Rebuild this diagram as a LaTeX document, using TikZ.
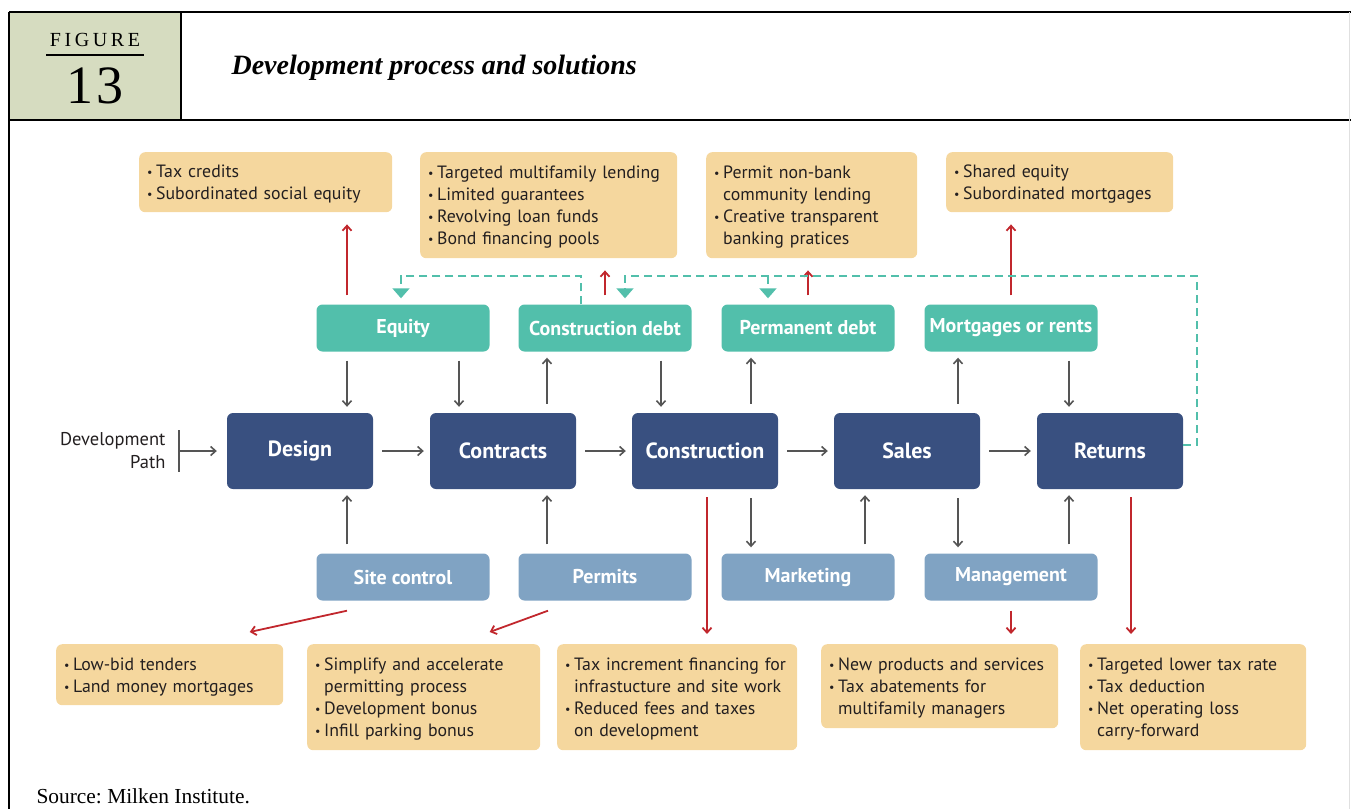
\documentclass[tikz,border=0pt]{standalone}
\usepackage{fontspec}
\setmainfont{PT Sans}
\newfontfamily\serif{Liberation Serif}
\usetikzlibrary{arrows.meta}
\frenchspacing

\definecolor{navy}{RGB}{57,80,128}
\definecolor{mint}{RGB}{82,191,171}
\definecolor{slate}{RGB}{128,163,195}
\definecolor{sand}{RGB}{245,215,158}
\definecolor{brick}{RGB}{193,39,45}
\definecolor{ash}{RGB}{85,85,85}
\definecolor{sage}{RGB}{214,220,192}
\definecolor{ink}{RGB}{35,31,32}

% bullet and hanging indent for the solution lists
\newcommand{\itm}{\rule{0pt}{17pt}\makebox[9pt][l]{\raisebox{1pt}{\fontsize{12}{12}\selectfont\textbullet}}}
\newcommand{\cnt}{\hspace*{9pt}}

\begin{document}
\begin{tikzpicture}[x=1pt,y=-1pt,
    stage/.style={rectangle, rounded corners=6pt, fill=navy, text=white, inner xsep=2pt,
        font=\fontsize{22}{26}\selectfont\bfseries, minimum width=146pt, minimum height=76pt},
    fund/.style={rectangle, rounded corners=6pt, fill=mint, text=white, inner xsep=2pt,
        font=\fontsize{20}{24}\selectfont\bfseries, minimum width=173pt, minimum height=47pt},
    task/.style={fund, fill=slate},
    idea/.style={rectangle, rounded corners=6pt, fill=sand, text=ink, anchor=north west,
        font=\fontsize{17.8}{22}\selectfont, align=left, inner xsep=8pt, inner ysep=0pt},
    flow/.style={draw=ash, line width=1.6pt, -{Straight Barb[length=5pt,width=9pt]},
        shorten <=9pt, shorten >=6pt},
    fix/.style={draw=brick, line width=1.8pt, -{Straight Barb[length=5pt,width=9pt]},
        shorten <=9pt, shorten >=12pt},
    loop/.style={draw=mint, line width=1.8pt, dash pattern=on 8pt off 5pt,
        -{Triangle[length=10pt,width=17pt]}, shorten >=6pt},
]
\useasboundingbox (0,0) rectangle (1351,809);

%% header
\fill[sage] (9,12) rectangle (181,120);
\draw[line width=1.6pt] (9,12) -- (1351,12);
\draw[line width=1.6pt] (9,120) -- (1351,120);
\draw[line width=1.2pt] (181,12) -- (181,120);
\draw[line width=1.6pt] (9,12) -- (9,809);
\draw[black!12, line width=1pt] (1349.5,12) -- (1349.5,809);
\node (fig) at (95,40) {\serif\addfontfeature{LetterSpace=18}\fontsize{20}{20}\selectfont FIGURE};
\draw[line width=1.2pt] (46,55) -- (144,55);
\node (num) at (95,86) {\serif\addfontfeature{LetterSpace=6}\fontsize{54}{54}\selectfont 13};
\node[anchor=west] (title) at (228,68) {\serif\fontsize{28}{32}\selectfont\bfseries\itshape Development process and solutions};

%% development path
\node[stage] (des) at (300,451) {Design};
\node[stage] (con) at (503,451) {Contracts};
\node[stage] (cst) at (705,451) {Construction};
\node[stage] (sal) at (907,451) {Sales};
\node[stage] (ret) at (1110,451) {Returns};

%% money going in
\node[fund] (eq) at (403,328) {Equity};
\node[fund] (cd) at (605,328) {Construction debt};
\node[fund] (pd) at (808,328) {Permanent debt};
\node[fund] (mr) at (1011,328) {Mortgages or rents};

%% work going in
\node[task] (sc) at (403,577) {Site control};
\node[task] (pm) at (605,577) {Permits};
\node[task] (mk) at (808,577) {Marketing};
\node[task] (mg) at (1011,577) {Management};

%% solutions above
\node[idea, minimum width=253pt, minimum height=60pt, text width=237pt] (t1) at (139,152)
    {\itm Tax credits\\ \itm Subordinated social equity};
\node[idea, minimum width=257pt, minimum height=106pt, text width=241pt] (t2) at (420,152)
    {\itm Targeted multifamily lending\\ \itm Limited guarantees\\ \itm Revolving loan funds\\ \itm Bond financing pools};
\node[idea, minimum width=211pt, minimum height=106pt, text width=195pt] (t3) at (706,152)
    {\itm Permit non-bank\\ \cnt community lending\\ \itm Creative transparent\\ \cnt banking pratices};
\node[idea, minimum width=227pt, minimum height=60pt, text width=211pt] (t4) at (946,152)
    {\itm Shared equity\\ \itm Subordinated mortgages};

%% solutions below
\node[idea, minimum width=227pt, minimum height=61pt, text width=211pt] (b1) at (56,644)
    {\itm Low-bid tenders\\ \itm Land money mortgages};
\node[idea, minimum width=233pt, minimum height=106pt, text width=217pt] (b2) at (307,644)
    {\itm Simplify and accelerate\\ \cnt permitting process\\ \itm Development bonus\\ \itm Infill parking bonus};
\node[idea, minimum width=240pt, minimum height=106pt, text width=224pt] (b3) at (557,644)
    {\itm Tax increment financing for\\ \cnt infrastucture and site work\\ \itm Reduced fees and taxes\\ \cnt on development};
\node[idea, minimum width=237pt, minimum height=84pt, text width=221pt] (b4) at (821,644)
    {\itm New products and services\\ \itm Tax abatements for\\ \cnt multifamily managers};
\node[idea, minimum width=226pt, minimum height=106pt, text width=210pt] (b5) at (1080,644)
    {\itm Targeted lower tax rate\\ \itm Tax deduction\\ \itm Net operating loss\\ \cnt carry-forward};

%% entry of the path
\node[anchor=east, align=right, font=\fontsize{18.5}{23}\selectfont, text=ink] (dev) at (169,451) {Development\\ Path};
\coordinate (start) at (179,451);
\draw[ash, line width=1.6pt] (179,430) -- (179,472);
\draw[flow, shorten <=0pt, shorten >=10pt] (start) -- (des.west);

%% along the path
\draw[flow] (des) -- (con);
\draw[flow] (con) -- (cst);
\draw[flow] (cst) -- (sal);
\draw[flow] (sal) -- (ret);

%% up and down the stages
\draw[flow] ([xshift=-56pt]eq.south) -- ([xshift=47pt]des.north);
\draw[flow] ([xshift=56pt]eq.south) -- ([xshift=-44pt]con.north);
\draw[flow] ([xshift=44pt]con.north) -- ([xshift=-58pt]cd.south);
\draw[flow] ([xshift=56pt]cd.south) -- ([xshift=-44pt]cst.north);
\draw[flow] ([xshift=46pt]cst.north) -- ([xshift=-57pt]pd.south);
\draw[flow] ([xshift=51pt]sal.north) -- ([xshift=-53pt]mr.south);
\draw[flow] ([xshift=58pt]mr.south) -- ([xshift=-41pt]ret.north);
\draw[flow] ([xshift=-56pt]sc.north) -- ([xshift=47pt]des.south);
\draw[flow] ([xshift=-58pt]pm.north) -- ([xshift=44pt]con.south);
\draw[flow] ([xshift=46pt]cst.south) -- ([xshift=-57pt]mk.north);
\draw[flow] ([xshift=57pt]mk.north) -- ([xshift=-42pt]sal.south);
\draw[flow] ([xshift=51pt]sal.south) -- ([xshift=-53pt]mg.north);
\draw[flow] ([xshift=58pt]mg.north) -- ([xshift=-41pt]ret.south);

%% red arrows to the solutions
\coordinate (eqtop) at ([xshift=-56pt]eq.north);
\coordinate (rettop) at ([xshift=21pt]ret.south);
\draw[fix] (eqtop) -- (eqtop |- t1.south);
\draw[fix] (cd.north) -- (cd.north |- t2.south);
\draw[fix] (pd.north) -- (pd.north |- t3.south);
\draw[fix] (mr.north) -- (mr.north |- t4.south);
\draw[fix, shorten <=0pt, shorten >=0pt] ([xshift=-56pt,yshift=-10pt]sc.south) -- ([xshift=80pt,yshift=12pt]b1.north);
\draw[fix, shorten <=0pt, shorten >=0pt] ([xshift=-57pt,yshift=-10pt]pm.south) -- ([xshift=66pt,yshift=12pt]b2.north);
\draw[fix, shorten <=8pt, shorten >=10pt] ([xshift=2pt]cst.south) -- ([xshift=2pt]cst.south |- b3.north);
\draw[fix, shorten <=10pt, shorten >=10pt] (mg.south) -- (mg.south |- b4.north);
\draw[fix, shorten <=8pt, shorten >=10pt] (rettop) -- (rettop |- b5.north);

%% dashed feedback of money
\coordinate (rail) at (0,276);
\coordinate (cdout) at ([xshift=-24pt]cd.north);
\coordinate (cdin) at ([xshift=20pt]cd.north);
\coordinate (pdin) at ([xshift=-40pt]pd.north);
\draw[loop] (cdout) |- ([xshift=-2pt]eq.north |- rail) -- ([xshift=-2pt]eq.north);
\draw[loop] ([yshift=6pt]ret.east) -- ++(14,0) |- (cdin |- rail) -- (cdin);
\draw[loop] (pdin |- rail) -- (pdin);

%% footer
\node[anchor=base west, font=\serif\fontsize{21.4}{25}\selectfont] (src) at (33,803) {Source: Milken Institute.};
\end{tikzpicture}
\end{document}
